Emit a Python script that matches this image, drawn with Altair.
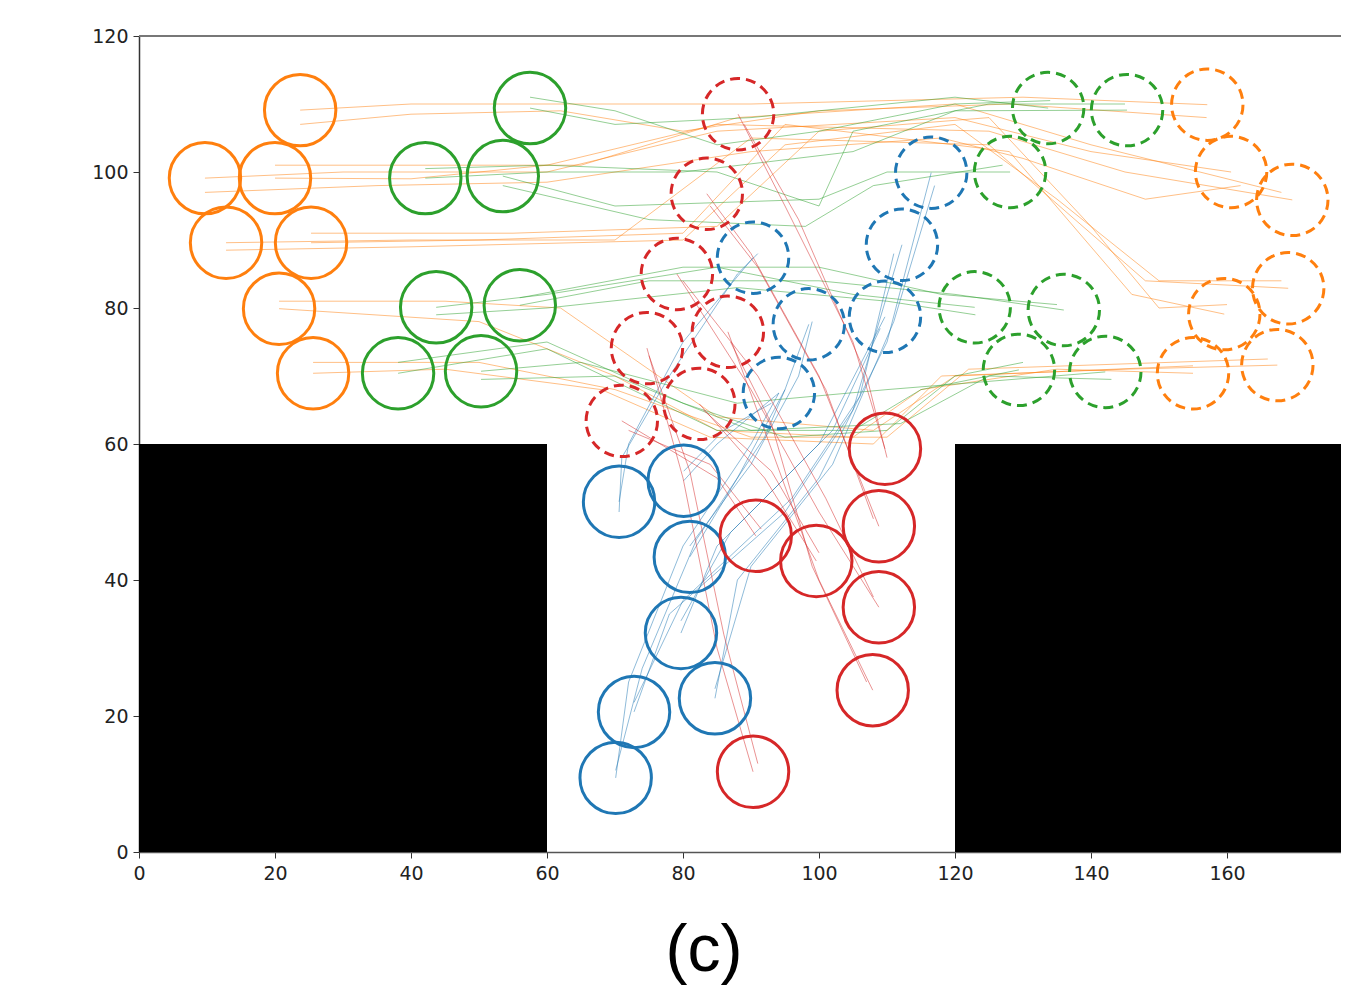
import altair as alt
import pandas as pd

# ---- agent start positions (solid circles) ----
orange_start_x = [23.7, 9.7, 20.0, 12.8, 25.3, 20.6, 25.6]
orange_start_y = [109.1, 99.1, 99.1, 89.6, 89.6, 79.9, 70.4]
green_start_x = [57.5, 42.1, 53.5, 43.7, 56.0, 38.1, 50.3]
green_start_y = [109.4, 99.1, 99.4, 80.1, 80.4, 70.4, 70.7]
blue_start_x = [70.6, 80.1, 81.0, 79.7, 72.8, 84.7, 70.1]
blue_start_y = [51.5, 54.6, 43.4, 32.2, 20.6, 22.6, 10.9]
red_start_x = [109.7, 90.7, 99.6, 108.8, 108.8, 107.9, 90.3]
red_start_y = [59.3, 46.5, 42.8, 47.9, 36.0, 23.8, 11.8]

# ---- agent goal positions (dashed circles) ----
orange_goal_x = [157.1, 160.6, 169.6, 169.0, 159.6, 155.0, 167.4]
orange_goal_y = [109.9, 100.0, 95.9, 82.9, 79.1, 70.4, 71.6]
green_goal_x = [133.7, 145.3, 128.1, 122.9, 136.0, 129.4, 142.1]
green_goal_y = [109.4, 109.1, 100.0, 80.1, 79.7, 70.9, 70.6]
blue_goal_x = [90.3, 94.1, 98.5, 109.7, 112.2, 116.5]
blue_goal_y = [87.4, 67.5, 77.6, 78.7, 89.3, 99.9]
red_goal_x = [88.1, 71.0, 82.4, 83.5, 79.1, 86.6, 74.7]
red_goal_y = [108.5, 63.4, 65.9, 96.8, 85.0, 76.5, 74.1]

# ---- trajectories (waypoints, two runs) ----
orange_paths = [
    [(23.7, 109.1), (40, 110), (60, 110), (90, 110), (130, 111), (157.1, 109.9)],
    [(9.7, 99.1), (30, 100), (60, 100), (85, 106), (120, 108), (140, 103), (160.6, 100)],
    [(20, 99.1), (40, 99), (60, 101), (85, 107), (125, 106), (145, 100), (169.6, 95.9)],
    [(12.8, 89.6), (40, 90), (70, 90), (90, 105), (125, 104), (148, 84), (169, 82.9)],
    [(25.3, 89.6), (50, 90), (80, 91), (95, 107), (128, 103), (146, 82), (159.6, 79.1)],
    [(20.6, 79.9), (50, 78), (70, 70), (85, 62), (105, 61), (115, 68), (135, 71), (155, 70.4)],
    [(25.6, 70.4), (45, 71), (68, 68), (84, 61), (108, 60), (118, 70), (145, 71), (167.4, 71.6)],
    [(23.7, 107), (40, 108.5), (62, 109), (80, 106), (100, 109), (128, 110), (157, 108)],
    [(9.7, 97), (35, 98), (60, 98.5), (90, 103), (118, 105), (130, 102), (148, 96), (162, 98)],
    [(20, 101), (45, 101), (65, 101), (88, 108), (120, 110), (140, 104), (168, 97)],
    [(12.8, 88.5), (40, 89), (80, 90), (95, 104), (120, 107), (135, 96), (150, 84), (168, 84)],
    [(25.3, 91), (55, 91), (85, 92), (100, 106), (125, 108), (140, 92), (150, 80), (160, 80.5)],
    [(20.6, 81), (45, 81), (62, 80), (85, 64), (108, 62), (120, 70), (155, 71.5)],
    [(25.6, 72), (50, 72), (70, 68), (90, 61), (110, 61), (122, 71), (166, 72.5)],
]
green_paths = [
    [(57.5, 109.4), (70, 107), (90, 108), (120, 111), (133.7, 109.4)],
    [(42.1, 99.1), (60, 100), (80, 100), (105, 103), (120, 109), (145.3, 109.1)],
    [(53.5, 99.4), (70, 95), (100, 96), (110, 100), (128.1, 100)],
    [(43.7, 80.1), (60, 82), (85, 86), (105, 82), (122.9, 80.1)],
    [(56, 80.4), (75, 84), (100, 84), (120, 82), (136, 79.7)],
    [(38.1, 70.4), (60, 74), (85, 62), (105, 62), (115, 68), (129.4, 70.9)],
    [(50.3, 70.7), (65, 72), (88, 66), (110, 68), (142.1, 70.6)],
    [(57.5, 111), (70, 109), (85, 104), (100, 106), (120, 110), (134, 110.5)],
    [(42.1, 100.5), (60, 101), (85, 100), (100, 95), (105, 106), (125, 110), (145, 110)],
    [(53.5, 98), (75, 93), (98, 92), (108, 98), (127, 101)],
    [(43.7, 79), (60, 80), (88, 83), (110, 81), (123, 79)],
    [(56, 81.5), (80, 86), (100, 86), (118, 82), (135, 80.5)],
    [(38.1, 72), (60, 75), (80, 66), (95, 61), (110, 62), (120, 70), (130, 72)],
    [(50.3, 69.5), (70, 70), (90, 62), (112, 63), (125, 70), (143, 69.5)],
]
blue_paths = [
    [(70.6, 51.5), (72, 60), (80, 75), (90.3, 87.4)],
    [(80.1, 54.6), (85, 60), (94.1, 67.5)],
    [(81, 43.4), (88, 55), (95, 68), (98.5, 77.6)],
    [(79.7, 32.2), (85, 45), (100, 60), (109.7, 78.7)],
    [(72.8, 20.6), (78, 35), (95, 50), (105, 65), (112.2, 89.3)],
    [(84.7, 22.6), (88, 40), (100, 55), (110, 75), (116.5, 99.9)],
    [(70.1, 10.9), (72, 25), (80, 45), (90, 60), (94.1, 67.5)],
    [(70.6, 50), (71, 58), (78, 70), (88, 85), (91, 88)],
    [(80.1, 56), (86, 62), (93, 66)],
    [(81, 45), (90, 57), (97, 70), (99, 78)],
    [(79.7, 34), (87, 47), (102, 62), (109, 77)],
    [(72.8, 22), (80, 37), (96, 52), (106, 67), (111, 88)],
    [(84.7, 24), (90, 42), (102, 57), (111, 78), (117, 98)],
    [(70.1, 12), (74, 27), (82, 46), (92, 61), (95, 68)],
]
red_paths = [
    [(109.7, 59.3), (105, 75), (95, 95), (88.1, 108.5)],
    [(90.7, 46.5), (85, 55), (71, 63.4)],
    [(99.6, 42.8), (92, 55), (82.4, 65.9)],
    [(108.8, 47.9), (100, 70), (90, 88), (83.5, 96.8)],
    [(108.8, 36), (100, 50), (90, 68), (79.1, 85)],
    [(107.9, 23.8), (100, 40), (92, 62), (86.6, 76.5)],
    [(90.3, 11.8), (85, 30), (80, 55), (74.7, 74.1)],
    [(110, 58), (107, 70), (97, 93), (89, 107)],
    [(91.5, 47.5), (84, 57), (72, 62)],
    [(100, 44), (93, 56), (83, 65)],
    [(108, 49), (101, 68), (91, 86), (84, 95)],
    [(108, 37.5), (101, 52), (91, 70), (80, 84)],
    [(107, 25), (99, 42), (93, 63), (87, 75)],
    [(91, 13), (86, 32), (81, 56), (75, 73)],
]

# ---- obstacles ----
obstacle_x0 = [0, 120]
obstacle_x1 = [60, 180]
obstacle_y0 = [0, 0]
obstacle_y1 = [60, 60]

x_ticks = [0, 20, 40, 60, 80, 100, 120, 140, 160]
y_ticks = [0, 20, 40, 60, 80, 100, 120]

teams = ["orange", "green", "blue", "red"]
team_colors = ["#ff7f0e", "#2ca02c", "#1f77b4", "#d62728"]

# build tables
start_rows, goal_rows = [], []
for team, xs, ys in [("orange", orange_start_x, orange_start_y), ("green", green_start_x, green_start_y),
                     ("blue", blue_start_x, blue_start_y), ("red", red_start_x, red_start_y)]:
    for x, y in zip(xs, ys):
        start_rows.append({"team": team, "x": x, "y": y})
for team, xs, ys in [("orange", orange_goal_x, orange_goal_y), ("green", green_goal_x, green_goal_y),
                     ("blue", blue_goal_x, blue_goal_y), ("red", red_goal_x, red_goal_y)]:
    for x, y in zip(xs, ys):
        goal_rows.append({"team": team, "x": x, "y": y})
path_rows = []
for team, paths in [("orange", orange_paths), ("green", green_paths), ("blue", blue_paths), ("red", red_paths)]:
    for i, p in enumerate(paths):
        for k, (x, y) in enumerate(p):
            path_rows.append({"team": team, "agent": f"{team}{i}", "order": k, "x": x, "y": y})

starts = pd.DataFrame(start_rows)
goals = pd.DataFrame(goal_rows)
paths_df = pd.DataFrame(path_rows)
obst = pd.DataFrame({"x0": obstacle_x0, "x1": obstacle_x1, "y0": obstacle_y0, "y1": obstacle_y1})

PX = 6.8
plot_w = 1202
plot_h = 816
x_max = plot_w / PX

xscale = alt.Scale(domain=[0, x_max], nice=False, zero=False)
yscale = alt.Scale(domain=[0, 120], nice=False, zero=False)
cscale = alt.Scale(domain=teams, range=team_colors)

xaxis = alt.Axis(values=x_ticks, title=None, grid=False, labelFont="DejaVu Sans", labelFontSize=19,
                 labelColor="#222", tickColor="#333", tickSize=6, labelPadding=6, domainColor="#555",
                 domainWidth=1.5, labelFlush=False)
yaxis = alt.Axis(values=y_ticks, title=None, grid=False, labelFont="DejaVu Sans", labelFontSize=19,
                 labelColor="#222", tickColor="#333", tickSize=6, labelPadding=5, domainColor="#333",
                 domainWidth=1.5)

lines = alt.Chart(paths_df).mark_line(strokeWidth=1, opacity=0.5, clip=True).encode(
    x=alt.X("x:Q", scale=xscale, axis=xaxis),
    y=alt.Y("y:Q", scale=yscale, axis=yaxis),
    detail="agent:N",
    order="order:Q",
    color=alt.Color("team:N", scale=cscale, legend=None),
)

solid = alt.Chart(starts).mark_point(shape="circle", filled=False, size=5100, strokeWidth=3, opacity=1, clip=True).encode(
    x=alt.X("x:Q", scale=xscale, axis=xaxis),
    y=alt.Y("y:Q", scale=yscale, axis=yaxis),
    color=alt.Color("team:N", scale=cscale, legend=None),
)

dashed = alt.Chart(goals).mark_point(shape="circle", filled=False, size=5100, strokeWidth=3, opacity=1,
                                     strokeDash=[10, 6], clip=True).encode(
    x=alt.X("x:Q", scale=xscale, axis=xaxis),
    y=alt.Y("y:Q", scale=yscale, axis=yaxis),
    color=alt.Color("team:N", scale=cscale, legend=None),
)

rects = alt.Chart(obst).mark_rect(color="black", clip=True).encode(
    x=alt.X("x0:Q", scale=xscale, axis=xaxis),
    x2="x1:Q",
    y=alt.Y("y0:Q", scale=yscale, axis=yaxis),
    y2="y1:Q",
)

top_spine = alt.Chart(pd.DataFrame({"y": [120]})).mark_rule(color="#777", strokeWidth=2).encode(
    y=alt.Y("y:Q", scale=yscale, axis=yaxis),
)

chart = alt.layer(lines, solid, dashed, rects, top_spine).properties(
    width=plot_w,
    height=plot_h,
    autosize=alt.AutoSizeParams(type="none"),
    padding={"left": 131, "top": 28, "right": 0, "bottom": 140},
    title=alt.TitleParams("(c)", orient="bottom", fontSize=66, font="Liberation Sans", fontWeight="normal",
                          color="black", offset=88, dx=-36, baseline="alphabetic", anchor="middle"),
).configure_view(stroke=None)

chart.save("out.html", embed_options={"renderer": "svg", "actions": False})
